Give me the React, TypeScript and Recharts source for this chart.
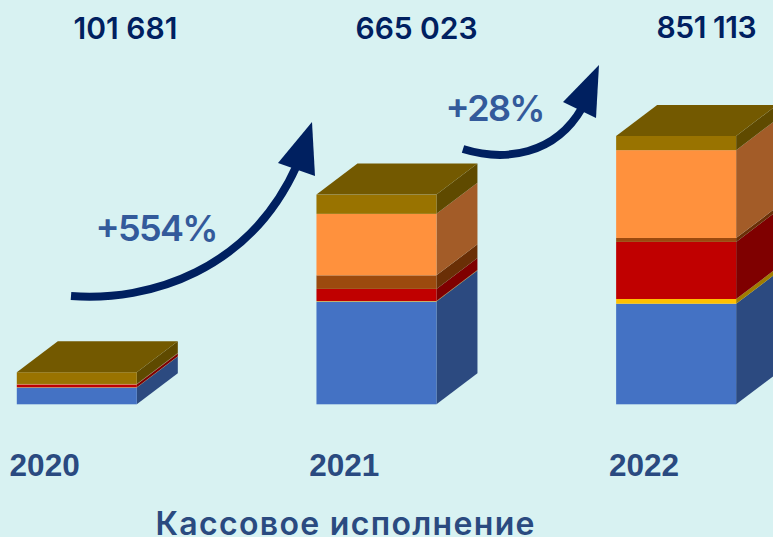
import React from "react";
import { BarChart, Bar, XAxis, YAxis } from "recharts";

const years = ["2020", "2021", "2022"];
const totals = ["101 681", "665 023", "851 113"];
const blue = [53000, 326000, 319000];
const yellow = [1000, 1500, 15000];
const red = [8500, 38500, 181000];
const brown = [1000, 43000, 12500];
const orange = [1000, 195000, 278500];
const gold = [37181, 61023, 45113];

const data = years.map((year, i) => ({
  year,
  blue: blue[i],
  yellow: yellow[i],
  red: red[i],
  brown: brown[i],
  orange: orange[i],
  gold: gold[i],
}));

const DX = 41;
const DY = 31;

// fake 3D block: front face, side face, and lid for the top series
function Block(props: any) {
  const { x, y, width, height, front, side, lid } = props;
  const r = x + width;
  return (
    <g>
      <polygon
        points={`${r},${y} ${r + DX},${y - DY} ${r + DX},${y + height - DY} ${r},${y + height}`}
        fill={side}
      />
      <rect x={x} y={y} width={width} height={height} fill={front} />
      {lid && (
        <polygon
          points={`${x},${y} ${x + DX},${y - DY} ${r + DX},${y - DY} ${r},${y}`}
          fill={lid}
        />
      )}
    </g>
  );
}

function BottomTick(props: any) {
  const { x, y, payload } = props;
  return (
    <text x={x - 32} y={y + 64} textAnchor="middle" fontFamily="Liberation Sans" fontWeight={700} fontSize={31.5} fill="#2A4A80">
      {payload.value}
    </text>
  );
}

const totalStyle = { fontFamily: "Inter", fontWeight: 600, fontSize: 30, fill: "#002060" };
const pctStyle = { fontFamily: "Inter", fontWeight: 600, fontSize: 36, fill: "#335A9B" };

export default function App() {
  return (
    <div style={{ position: "absolute", left: 0, top: 0, width: 773, height: 537, background: "#D8F2F2", overflow: "hidden" }}>
      <BarChart
        width={773}
        height={537}
        data={data}
        barSize={120}
        margin={{ top: 89, right: -52.8, bottom: 0, left: -73.2 }}
      >
        <XAxis
          dataKey="year"
          axisLine={false}
          tickLine={false}
          height={132.7}
          interval={0}
          tick={<BottomTick />}
        />
        <YAxis hide domain={[0, 1000000]} />
        <Bar dataKey="blue" stackId="a" isAnimationActive={false} shape={<Block front="#4472C4" side="#2C4A80" />} />
        <Bar dataKey="yellow" stackId="a" isAnimationActive={false} shape={<Block front="#FFC000" side="#A07C00" />} />
        <Bar dataKey="red" stackId="a" isAnimationActive={false} shape={<Block front="#C00000" side="#7F0000" />} />
        <Bar dataKey="brown" stackId="a" isAnimationActive={false} shape={<Block front="#9C4A0E" side="#6A2F06" />} />
        <Bar dataKey="orange" stackId="a" isAnimationActive={false} shape={<Block front="#FF913D" side="#A35C28" />} />
        <Bar dataKey="gold" stackId="a" isAnimationActive={false} shape={<Block front="#997300" side="#5F4A00" lid="#735900" />} />

        <path d="M71 296 C150 302 250 270 297 165" fill="none" stroke="#002060" strokeWidth={8} />
        <polygon points="312,122 278,163 315,176" fill="#002060" />
        <path d="M463 149 C505 162 555 155 582 108" fill="none" stroke="#002060" strokeWidth={8} />
        <polygon points="599,65 563,102 596,118" fill="#002060" />

        <text x={125.5} y={39} textAnchor="middle" textLength={104} {...totalStyle}>{totals[0]}</text>
        <text x={416.5} y={38.5} textAnchor="middle" textLength={122} {...totalStyle}>{totals[1]}</text>
        <text x={706.5} y={37.7} textAnchor="middle" textLength={100} {...totalStyle}>{totals[2]}</text>
        <text x={157} y={241} textAnchor="middle" textLength={123} {...pctStyle}>+554%</text>
        <text x={495.5} y={121} textAnchor="middle" textLength={100} {...pctStyle}>+28%</text>
        <text x={345} y={535} textAnchor="middle" textLength={379} fontFamily="Inter" fontWeight={600} fontSize={32} fill="#2A4A80">
          Кассовое исполнение
        </text>
      </BarChart>
    </div>
  );
}
